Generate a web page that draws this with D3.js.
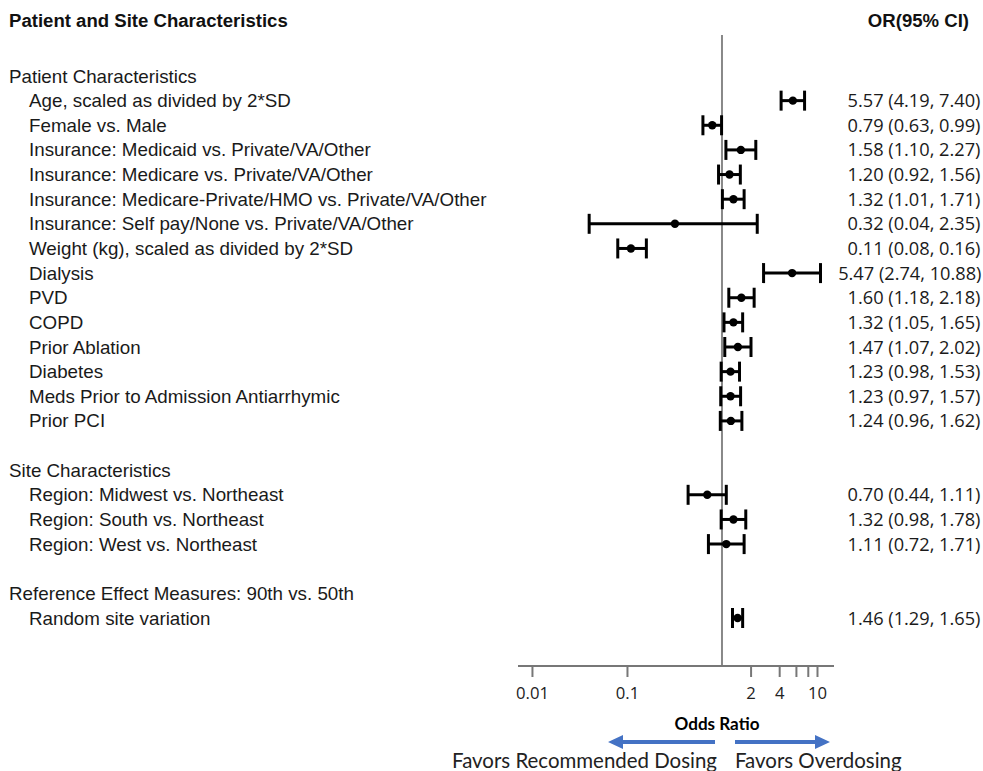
<!DOCTYPE html>
<html><head><meta charset="utf-8">
<script src="https://cdn.jsdelivr.net/npm/d3@7"></script>
<style>body{margin:0;background:#fff}svg{display:block}</style>
</head><body>
<svg id="c" width="983" height="771"></svg>
<script>
// ---- data ----
const rowLabels = ["Patient Characteristics","Age, scaled as divided by 2*SD","Female vs. Male",
 "Insurance: Medicaid vs. Private/VA/Other","Insurance: Medicare vs. Private/VA/Other",
 "Insurance: Medicare-Private/HMO vs. Private/VA/Other","Insurance: Self pay/None vs. Private/VA/Other",
 "Weight (kg), scaled as divided by 2*SD","Dialysis","PVD","COPD","Prior Ablation","Diabetes",
 "Meds Prior to Admission Antiarrhymic","Prior PCI","","Site Characteristics",
 "Region: Midwest vs. Northeast","Region: South vs. Northeast","Region: West vs. Northeast","",
 "Reference Effect Measures: 90th vs. 50th","Random site variation"];
const rowIsHeader = [1,0,0,0,0,0,0,0,0,0,0,0,0,0,0,0,1,0,0,0,0,1,0];
const orValues = [null,5.57,0.79,1.58,1.20,1.32,0.32,0.11,5.47,1.60,1.32,1.47,1.23,1.23,1.24,null,null,0.70,1.32,1.11,null,null,1.46];
const lowerCI  = [null,4.19,0.63,1.10,0.92,1.01,0.04,0.08,2.74,1.18,1.05,1.07,0.98,0.97,0.96,null,null,0.44,0.98,0.72,null,null,1.29];
const upperCI  = [null,7.40,0.99,2.27,1.56,1.71,2.35,0.16,10.88,2.18,1.65,2.02,1.53,1.57,1.62,null,null,1.11,1.78,1.71,null,null,1.65];
const tickValues = [0.01,0.1,2,4,6,8,10];
const tickLabels = ["0.01","0.1","2","4","","","10"];
const titleLeft = "Patient and Site Characteristics";
const titleRight = "OR(95% CI)";
const axisTitle = "Odds Ratio";
const favorLeft = "Favors Recommended Dosing";
const favorRight = "Favors Overdosing";

const fmt = d3.format(".2f");
const rows = rowLabels.map((l,i)=>({i,label:l,header:rowIsHeader[i],or:orValues[i],lo:lowerCI[i],hi:upperCI[i]}));

const W = 983;
const svg = d3.select("#c");
const x = d3.scaleLog().domain([0.00713,15.1]).range([518,834]);
const y = d3.scalePoint().domain(d3.range(rowLabels.length)).range([76,618]);
const axisY = 666;

function fit(sel, target){
  const w = sel.node().getComputedTextLength();
  const fs = parseFloat(sel.attr("font-size"));
  return fs*target/w;
}

const LF = "'Liberation Sans', Arial, sans-serif";
const RF = "'Open Sans', sans-serif";
const BF = "Lato, sans-serif";

// measure font sizes
const probe = svg.append("text").attr("font-family",LF).attr("font-size",100).text(rowLabels[5]);
const labelFS = fit(probe, 458);
probe.attr("font-family",RF).text("5.57 (4.19, 7.40)");
const valFS = fit(probe, 133);
probe.attr("font-family",LF).attr("font-weight","bold").text(titleLeft);
const titleFS = fit(probe, 279);
probe.attr("font-family",BF).attr("font-weight","bold").text(axisTitle);
const axTitleFS = fit(probe, 85);
probe.attr("font-weight","normal").text(favorLeft);
const favFS = fit(probe, 265);
probe.attr("font-family",RF).text("0.01");
const tickFS = fit(probe, 33);
probe.remove();

// titles
svg.append("text").attr("x",9).attr("y",20).attr("dy","0.35em").attr("font-family",LF)
  .attr("font-weight","bold").attr("font-size",titleFS).attr("fill","#111").text(titleLeft);
svg.append("text").attr("x",969).attr("y",20).attr("dy","0.35em").attr("text-anchor","end").attr("font-family",LF)
  .attr("font-weight","bold").attr("font-size",titleFS).attr("fill","#111").text(titleRight);

// labels
svg.append("g").selectAll("text").data(rows.filter(r=>r.label)).join("text")
  .attr("x",r=>r.header?9:29).attr("y",r=>y(r.i)).attr("dy","0.35em")
  .attr("font-family",LF).attr("font-size",labelFS).attr("fill","#1a1a1a").text(r=>r.label);

// values (centered column; keep long ones inside the page)
svg.append("g").selectAll("text").data(rows.filter(r=>r.or!=null)).join("text")
  .attr("x",914).attr("y",r=>y(r.i)).attr("dy","0.36em").attr("text-anchor","middle")
  .attr("font-family",RF).attr("font-size",valFS).attr("fill","#1a1a1a")
  .text(r=>`${fmt(r.or)} (${fmt(r.lo)}, ${fmt(r.hi)})`)
  .each(function(){
    const w = this.getComputedTextLength();
    const cx = Math.min(914, W - 1.5 - w/2);
    d3.select(this).attr("x", cx);
  });

// reference line
svg.append("line").attr("x1",x(1)).attr("x2",x(1)).attr("y1",35).attr("y2",axisY)
  .attr("stroke","#888").attr("stroke-width",2);

// axis
const ax = svg.append("g").attr("transform",`translate(0,${axisY})`)
  .call(d3.axisBottom(x).tickValues(tickValues).tickFormat((d,i)=>tickLabels[i]).tickSize(11).tickPadding(10));
ax.select(".domain").attr("stroke","#777").attr("stroke-width",2).attr("d","M518,0H834");
ax.selectAll(".tick line").attr("stroke","#777").attr("stroke-width",2);
ax.selectAll(".tick text").attr("font-family",RF).attr("font-size",tickFS).attr("fill","#222");

// CIs
const g = svg.append("g");
const pts = rows.filter(r=>r.or!=null);
g.selectAll("line.ci").data(pts).join("line").attr("class","ci")
  .attr("x1",r=>x(r.lo)).attr("x2",r=>x(r.hi)).attr("y1",r=>y(r.i)).attr("y2",r=>y(r.i))
  .attr("stroke","#000").attr("stroke-width",3);
["lo","hi"].forEach(k=>{
  g.selectAll("line.cap"+k).data(pts).join("line").attr("class","cap"+k)
   .attr("x1",r=>x(r[k])).attr("x2",r=>x(r[k])).attr("y1",r=>y(r.i)-10).attr("y2",r=>y(r.i)+10)
   .attr("stroke","#000").attr("stroke-width",3);
});
g.selectAll("circle").data(pts).join("circle").attr("cx",r=>x(r.or)).attr("cy",r=>y(r.i)).attr("r",4.2).attr("fill","#000");

// axis title + favors
svg.append("text").attr("x",717).attr("y",724).attr("dy","0.35em").attr("text-anchor","middle")
  .attr("font-family",BF).attr("font-weight","bold").attr("font-size",axTitleFS).attr("fill","#000").text(axisTitle);
const blue = "#4472C4";
svg.append("path").attr("fill",blue)
  .attr("d","M715,740 H623 V735 L608,742 L623,749 V744 H715 Z");
svg.append("path").attr("fill",blue)
  .attr("d","M735,740 H815 V735 L830,742 L815,749 V744 H735 Z");
svg.append("text").attr("x",717).attr("y",761).attr("dy","0.35em").attr("text-anchor","end")
  .attr("font-family",BF).attr("font-size",favFS).attr("fill","#222").text(favorLeft);
svg.append("text").attr("x",735).attr("y",761).attr("dy","0.35em")
  .attr("font-family",BF).attr("font-size",favFS).attr("fill","#222").text(favorRight);
</script>
</body></html>
